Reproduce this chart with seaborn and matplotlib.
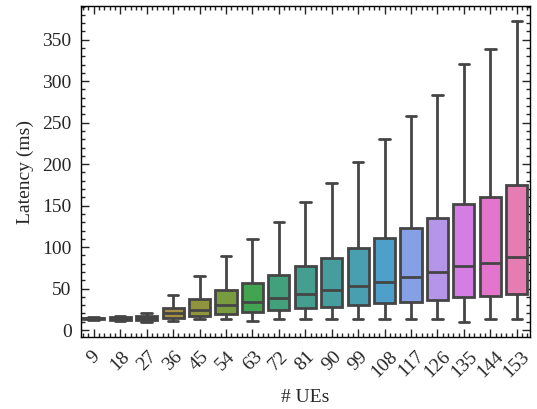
import numpy as np
import pandas as pd
import matplotlib
matplotlib.use("Agg")
import matplotlib.pyplot as plt
import seaborn as sns
from matplotlib.ticker import AutoMinorLocator, MultipleLocator

# number of UEs and the box stats (latency in ms)
ues = [9, 18, 27, 36, 45, 54, 63, 72, 81, 90, 99, 108, 117, 126, 135, 144, 153]
whislo = [12, 11.5, 10, 11.5, 13.3, 13.3, 10.9, 13.3, 13.3, 13.3, 13.3, 13.3, 13.3, 13.3, 9.3, 13.3, 13.3]
q1 = [13, 12.5, 12, 14.5, 17.3, 19.3, 21.7, 23.7, 26.1, 28.1, 29.7, 32.6, 34.1, 36.2, 39.8, 41.3, 43.4]
med = [14, 14, 14.5, 21, 24.5, 30.2, 34.1, 38.9, 43.7, 48.9, 53.4, 58.5, 64.5, 70.2, 77.8, 81.4, 88.2]
q3 = [15, 15.5, 17, 26.5, 37.7, 48.6, 57, 66.6, 77, 87.4, 99.4, 111.4, 123.4, 135.5, 151.9, 160, 175.1]
whishi = [16, 16.5, 20.5, 42, 65.4, 89.8, 109.5, 130.7, 154, 176.8, 202.4, 230.9, 257.7, 283.8, 320.2, 339, 372.3]

rows = []
for i, u in enumerate(ues):
    for v in (whislo[i], q1[i], med[i], q3[i], whishi[i]):
        rows.append({"ue": str(u), "latency": v})
df = pd.DataFrame(rows)

sns.set_style("ticks")
plt.rcParams['font.family'] = ['Liberation Serif', 'DejaVu Serif']
plt.rcParams['font.size'] = 14
plt.rcParams['axes.linewidth'] = 1.0

fig = plt.figure(figsize=(5.37, 4.09), dpi=100)
ax = fig.add_axes([0.150, 0.175, 0.837, 0.810])

order = [str(u) for u in ues]
sns.boxplot(data=df, x="ue", y="latency", hue="ue", order=order, hue_order=order,
            palette="husl", legend=False, whis=(0, 100), linewidth=2,
            linecolor="0.27", saturation=0.75, ax=ax)

ax.set_xlabel("# UEs", fontsize=14, labelpad=6)
ax.set_ylabel("Latency (ms)", fontsize=14, labelpad=6)
ax.yaxis.set_major_locator(MultipleLocator(50))
ax.yaxis.set_minor_locator(AutoMinorLocator(5))
ax.xaxis.set_minor_locator(AutoMinorLocator(5))
ax.tick_params(which="both", direction="in", top=True, right=True, labelsize=14)
ax.tick_params(which="major", length=6, width=1)
ax.tick_params(which="minor", length=3, width=1)
ax.tick_params(axis="x", which="major", pad=7.5)
ax.tick_params(axis="y", which="major", pad=6.5)
plt.setp(ax.get_xticklabels(), rotation=45)
for s in ax.spines.values():
    s.set_color("black")

fig.savefig("out.png", dpi=100)
